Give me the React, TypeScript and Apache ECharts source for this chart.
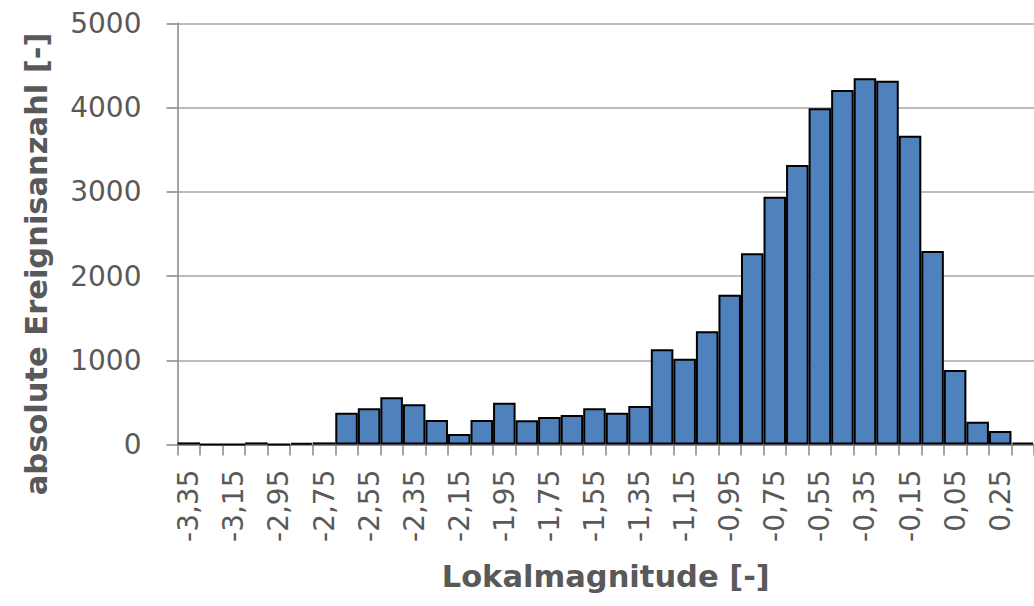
import React, { useEffect, useRef } from "react";
import * as echarts from "echarts";

const categories: string[] = [
  "-3,35", "-3,25", "-3,15", "-3,05", "-2,95", "-2,85", "-2,75", "-2,65", "-2,55", "-2,45",
  "-2,35", "-2,25", "-2,15", "-2,05", "-1,95", "-1,85", "-1,75", "-1,65", "-1,55", "-1,45",
  "-1,35", "-1,25", "-1,15", "-1,05", "-0,95", "-0,85", "-0,75", "-0,65", "-0,55", "-0,45",
  "-0,35", "-0,25", "-0,15", "-0,05", "0,05", "0,15", "0,25", "0,35",
];

const counts: number[] = [
  25, 0, 0, 25, 0, 20, 25, 377, 430, 560,
  477, 291, 125, 291, 496, 287, 326, 350, 430, 378,
  457, 1130, 1019, 1345, 1777, 2270, 2942, 3318, 3991, 4208,
  4347, 4319, 3666, 2297, 884, 271, 160, 22,
];

const yTicks: number[] = [0, 1000, 2000, 3000, 4000, 5000];

const xTitle = "Lokalmagnitude [-]";
const yTitle = "absolute Ereignisanzahl [-]";

const FONT = "'DejaVu Sans', sans-serif";
const TEXT = "#595959";

export default function App() {
  const ref = useRef<HTMLDivElement>(null);
  useEffect(() => {
    if (!ref.current) return;
    const chart = echarts.init(ref.current, null, { renderer: "svg" });
    chart.setOption({
      animation: false,
      backgroundColor: "#ffffff",
      grid: {
        left: 177.5,
        right: 0,
        top: 23.3,
        bottom: 161.5,
        containLabel: false,
        outerBoundsMode: "none",
      },
      xAxis: {
        type: "category",
        data: categories,
        boundaryGap: true,
        name: xTitle,
        nameLocation: "middle",
        nameGap: 116,
        nameTextStyle: { fontFamily: FONT, fontSize: 30.5, fontWeight: "bold", color: TEXT },
        axisLine: { show: true, lineStyle: { color: "#868686", width: 1.5 } },
        axisTick: { show: true, interval: 0, length: 11, alignWithLabel: false, lineStyle: { color: "#868686", width: 1.5 } },
        axisLabel: {
          interval: 1,
          rotate: 90,
          margin: 25,
          fontFamily: FONT,
          fontSize: 28,
          color: TEXT,
        },
        splitLine: { show: false },
      },
      yAxis: {
        type: "value",
        min: yTicks[0],
        max: yTicks[yTicks.length - 1],
        interval: yTicks[1] - yTicks[0],
        name: yTitle,
        nameLocation: "middle",
        nameRotate: 90,
        nameGap: 126,
        nameTextStyle: {
          fontFamily: FONT,
          fontSize: 30.5,
          fontWeight: "bold",
          color: TEXT,
          padding: [0, 60, 0, 0],
        },
        axisLine: { show: true, lineStyle: { color: "#868686", width: 1.5 } },
        axisTick: { show: true, length: 11, lineStyle: { color: "#868686", width: 1.5 } },
        axisLabel: {
          margin: 36,
          fontFamily: FONT,
          fontSize: 28,
          color: TEXT,
          formatter: (v: number) => String(v),
        },
        splitLine: { show: true, lineStyle: { color: "#a6a6a6", width: 1.5 } },
      },
      series: [
        {
          type: "bar",
          data: counts,
          barCategoryGap: "0%",
          itemStyle: { color: "#4F81BD", borderColor: "#000000", borderWidth: 2 },
        },
      ],
    });
    return () => chart.dispose();
  }, []);
  return (
    <div
      ref={ref}
      style={{ position: "absolute", left: 0, top: 0, width: 1034, height: 606 }}
    />
  );
}
